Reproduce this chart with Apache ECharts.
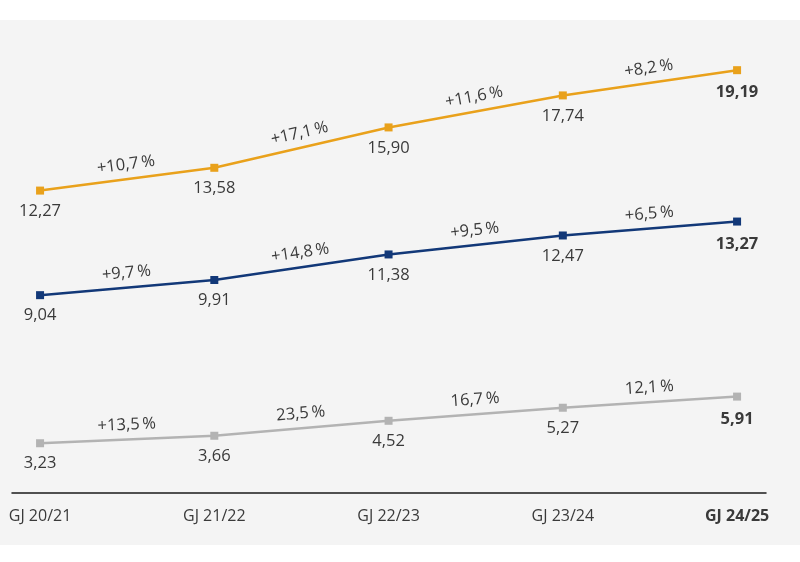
<!DOCTYPE html>
<html>
<head>
<meta charset="utf-8">
<script src="https://cdn.jsdelivr.net/npm/echarts@6/dist/echarts.min.js"></script>
<style>
html,body{margin:0;padding:0;background:#ffffff;}
#c{width:800px;height:562px;}
</style>
</head>
<body>
<div id="c"></div>
<script>
const categories = ['GJ 20/21', 'GJ 21/22', 'GJ 22/23', 'GJ 23/24', 'GJ 24/25'];
const orangeValues = [12.27, 13.58, 15.90, 17.74, 19.19];
const navyValues = [9.04, 9.91, 11.38, 12.47, 13.27];
const grayValues = [3.23, 3.66, 4.52, 5.27, 5.91];
const orangeGrowth = ['+10,7\u2009%', '+17,1\u2009%', '+11,6\u2009%', '+8,2\u2009%'];
const navyGrowth = ['+9,7\u2009%', '+14,8\u2009%', '+9,5\u2009%', '+6,5\u2009%'];
const grayGrowth = ['+13,5\u2009%', '23,5\u2009%', '16,7\u2009%', '12,1\u2009%'];

const FONT = "'Open Sans', 'Noto Sans', sans-serif";
const TXT = '#3a3a3a';
const FS = 16.5;
const colors = ['#E9A11B', '#123878', '#b3b3b3'];
const valueSets = [orangeValues, navyValues, grayValues];
const growthSets = [orangeGrowth, navyGrowth, grayGrowth];

const fmt = v => v.toFixed(2).replace('.', ',');

const chart = echarts.init(document.getElementById('c'), null, {renderer: 'canvas'});

function buildSeries(angles) {
  return valueSets.map((vals, k) => ({
    type: 'line',
    yAxisIndex: k,
    symbol: 'rect',
    symbolSize: 8,
    color: colors[k],
    lineStyle: {width: 2.5, color: colors[k]},
    itemStyle: {color: colors[k]},
    z: 3,
    label: {
      show: true, position: 'bottom', distance: 8,
      fontFamily: FONT, fontSize: FS, color: TXT,
      formatter: p => fmt(p.data.value ? p.data.value[1] : p.data[1])
    },
    data: vals.map((v, i) => i === vals.length - 1
      ? {value: [i, v], label: {fontWeight: 'bold', distance: 10}}
      : {value: [i, v]}),
    markPoint: {
      symbol: 'circle',
      symbolSize: 0,
      itemStyle: {color: 'transparent'},
      label: {
        show: true, position: 'top', distance: 6,
        fontFamily: FONT, fontSize: FS, color: TXT,
        formatter: p => p.name
      },
      data: growthSets[k].map((g, i) => ({
        name: g,
        coord: [i + 0.5, (vals[i] + vals[i + 1]) / 2],
        label: {rotate: angles ? angles[k][i] : 0}
      }))
    }
  }));
}

const option = {
  animation: false,
  backgroundColor: '#ffffff',
  graphic: [{
    type: 'rect', z: -10, silent: true,
    shape: {x: 0, y: 20, width: 800, height: 525},
    style: {fill: '#f4f4f4'}
  }],
  grid: {left: 12, right: 34, top: 58, bottom: 69, containLabel: false},
  xAxis: {
    type: 'value', min: -0.161, max: 4.166,
    splitLine: {show: false},
    axisTick: {show: false},
    axisLine: {show: true, onZero: false, lineStyle: {color: '#1a1a1a', width: 1.5}},
    axisLabel: {
      customValues: [0, 1, 2, 3, 4],
      margin: 15,
      fontFamily: FONT, fontSize: 16, color: TXT,
      formatter: v => {
        const i = Math.round(v);
        return i === categories.length - 1 ? '{b|' + categories[i] + '}' : categories[i];
      },
      rich: {b: {fontFamily: FONT, fontSize: 16, color: TXT, fontWeight: 'bold'}}
    }
  },
  yAxis: [
    {type: 'value', min: -5.11, max: 19.89, show: false},
    {type: 'value', min: -2.33, max: 22.67, show: false},
    {type: 'value', min: 0.37, max: 25.37, show: false}
  ],
  series: buildSeries(null)
};
chart.setOption(option);

const angles = valueSets.map((vals, k) => vals.slice(0, -1).map((v, i) => {
  const a = chart.convertToPixel({seriesIndex: k}, [i, v]);
  const b = chart.convertToPixel({seriesIndex: k}, [i + 1, vals[i + 1]]);
  return Math.atan2(a[1] - b[1], b[0] - a[0]) * 180 / Math.PI;
}));
chart.setOption({series: buildSeries(angles)});
</script>
</body>
</html>
